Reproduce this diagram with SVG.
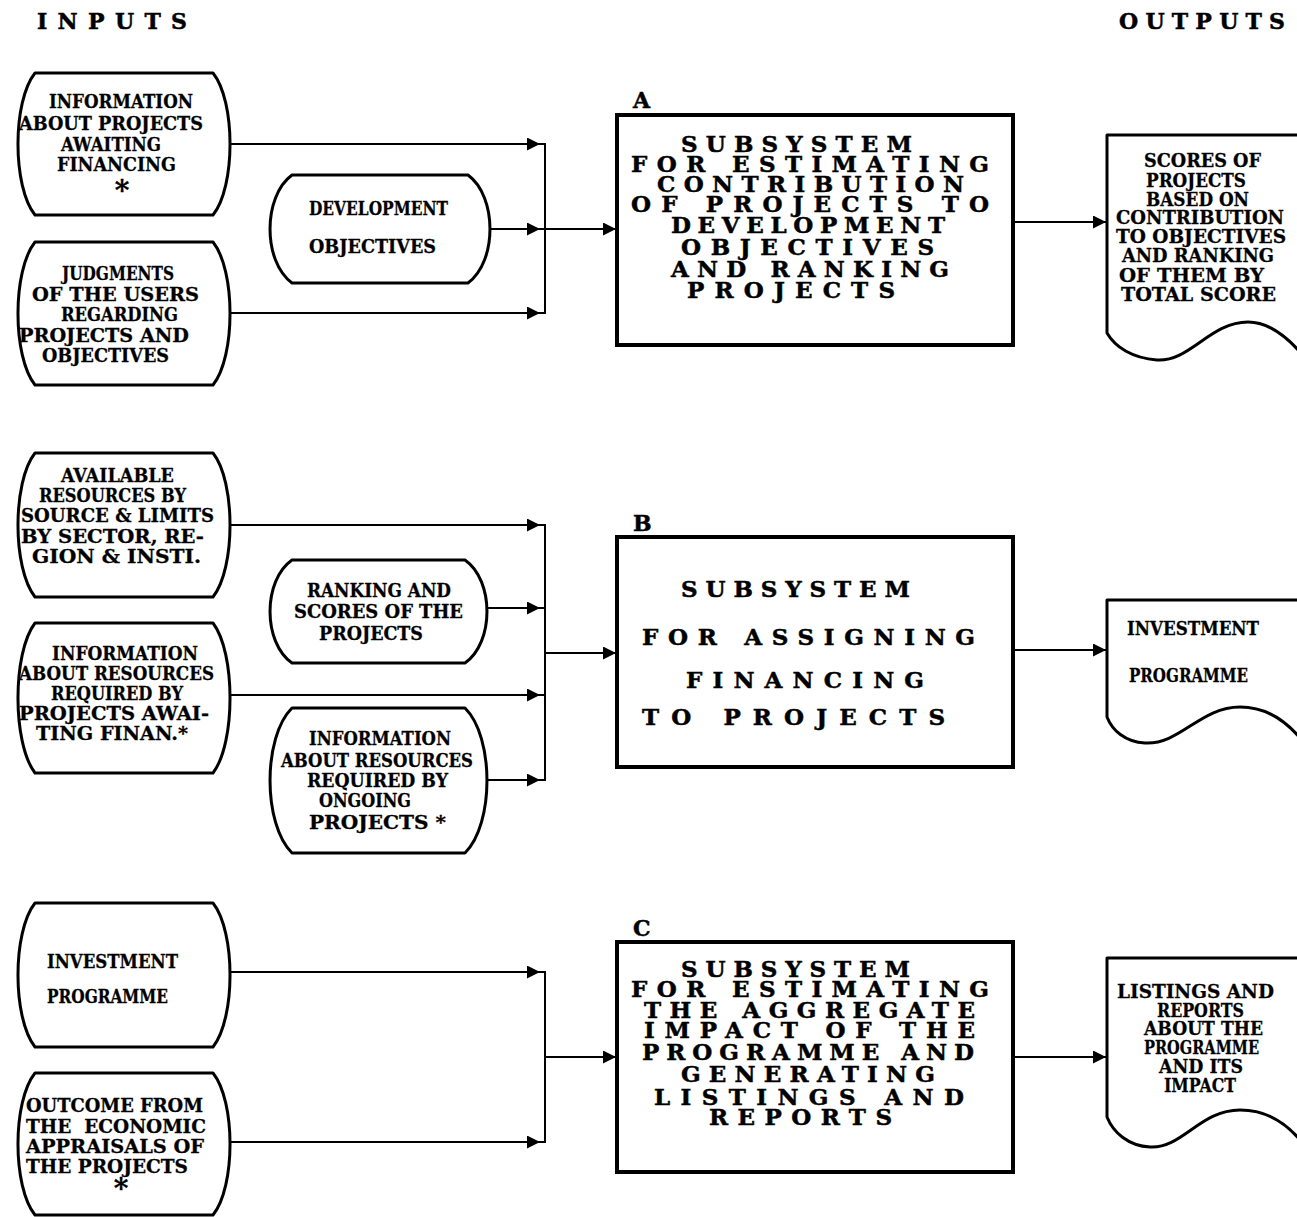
<svg xmlns="http://www.w3.org/2000/svg" width="1297" height="1217" viewBox="0 0 1297 1217">
<style>
.bg{fill:#fff}
.shape{fill:#fff;stroke:#000;stroke-width:3;stroke-linejoin:round}
.box{fill:#fff;stroke:#000;stroke-width:4}
.con{fill:none;stroke:#000;stroke-width:2}
.t{font-family:"DejaVu Serif","Liberation Serif",serif;font-weight:bold;fill:#000;stroke:#000;stroke-width:0.3}
.s{font-size:19px}
.b{font-size:23px;stroke-width:0.5}
.h{font-size:22px;stroke-width:0.5}
.ast{font-size:28px}
</style>
<defs>
<marker id="ah" viewBox="0 0 12 12" refX="12" refY="6" markerWidth="13" markerHeight="13" markerUnits="userSpaceOnUse" orient="auto"><path d="M0,0 L12,6 L0,12 Z" fill="#000"/></marker>
</defs>
<rect class="bg" x="0" y="0" width="1297" height="1217"/>

<g id="headers">
<text class="t h" x="37" y="29" textLength="150" lengthAdjust="spacing">INPUTS</text>
<text class="t h" x="1119" y="29" textLength="166" lengthAdjust="spacing">OUTPUTS</text>
</g>

<g id="connectors">
<path class="con" d="M230,144 H540" marker-end="url(#ah)"/>
<path class="con" d="M490,229 H540" marker-end="url(#ah)"/>
<path class="con" d="M230,313 H540" marker-end="url(#ah)"/>
<path class="con" d="M539,144 H545 V313 H539 M539,229 H545"/>
<path class="con" d="M545,229 H616" marker-end="url(#ah)"/>
<path class="con" d="M1013,222 H1106" marker-end="url(#ah)"/>

<path class="con" d="M230,525 H540" marker-end="url(#ah)"/>
<path class="con" d="M487,608 H540" marker-end="url(#ah)"/>
<path class="con" d="M230,695 H540" marker-end="url(#ah)"/>
<path class="con" d="M487,780 H540" marker-end="url(#ah)"/>
<path class="con" d="M539,525 H545 V780 H539 M539,608 H545 M539,695 H545"/>
<path class="con" d="M545,653 H616" marker-end="url(#ah)"/>
<path class="con" d="M1013,650 H1106" marker-end="url(#ah)"/>

<path class="con" d="M230,972 H540" marker-end="url(#ah)"/>
<path class="con" d="M230,1142 H540" marker-end="url(#ah)"/>
<path class="con" d="M539,972 H545 V1142 H539"/>
<path class="con" d="M545,1057 H616" marker-end="url(#ah)"/>
<path class="con" d="M1013,1057 H1106" marker-end="url(#ah)"/>
</g>

<g id="in-info-projects">
<path class="shape" d="M35,73 H213 C235.7,101.4 235.7,186.6 213,215 H35 C12.3,186.6 12.3,101.4 35,73 Z"/>
<text class="t s" x="49" y="108" textLength="144" lengthAdjust="spacingAndGlyphs">INFORMATION</text>
<text class="t s" x="19" y="130" textLength="184" lengthAdjust="spacingAndGlyphs">ABOUT PROJECTS</text>
<text class="t s" x="61" y="151" textLength="100" lengthAdjust="spacingAndGlyphs">AWAITING</text>
<text class="t s" x="57" y="171" textLength="119" lengthAdjust="spacingAndGlyphs">FINANCING</text>
<text class="t ast" x="122" y="200" text-anchor="middle">*</text>
</g>

<g id="in-judgments">
<path class="shape" d="M35,242 H213 C235.7,270.6 235.7,356.4 213,385 H35 C12.3,356.4 12.3,270.6 35,242 Z"/>
<text class="t s" x="62" y="280" textLength="112" lengthAdjust="spacingAndGlyphs">JUDGMENTS</text>
<text class="t s" x="32" y="301" textLength="167" lengthAdjust="spacingAndGlyphs">OF THE USERS</text>
<text class="t s" x="61" y="321" textLength="117" lengthAdjust="spacingAndGlyphs">REGARDING</text>
<text class="t s" x="19" y="342" textLength="170" lengthAdjust="spacingAndGlyphs">PROJECTS AND</text>
<text class="t s" x="42" y="362" textLength="127" lengthAdjust="spacingAndGlyphs">OBJECTIVES</text>
</g>

<g id="in-dev-objectives">
<path class="shape" d="M292,175 H468 C497.3,196.6 497.3,261.4 468,283 H292 C262.7,261.4 262.7,196.6 292,175 Z"/>
<text class="t s" x="309" y="215" textLength="139" lengthAdjust="spacingAndGlyphs">DEVELOPMENT</text>
<text class="t s" x="309" y="253" textLength="127" lengthAdjust="spacingAndGlyphs">OBJECTIVES</text>
</g>

<g id="box-a">
<text class="t h" x="633" y="108">A</text>
<rect class="box" x="617" y="115" width="396" height="230"/>
<text class="t b" x="681" y="152" textLength="231" lengthAdjust="spacing">SUBSYSTEM</text>
<text class="t b" x="631" y="172" textLength="358" lengthAdjust="spacing">FOR ESTIMATING</text>
<text class="t b" x="657" y="192" textLength="307" lengthAdjust="spacing">CONTRIBUTION</text>
<text class="t b" x="631" y="212" textLength="358" lengthAdjust="spacing">OF PROJECTS TO</text>
<text class="t b" x="671" y="233" textLength="274" lengthAdjust="spacing">DEVELOPMENT</text>
<text class="t b" x="681" y="255" textLength="253" lengthAdjust="spacing">OBJECTIVES</text>
<text class="t b" x="671" y="277" textLength="278" lengthAdjust="spacing">AND RANKING</text>
<text class="t b" x="687" y="298" textLength="208" lengthAdjust="spacing">PROJECTS</text>
</g>

<g id="out-scores">
<path class="shape" d="M1107,135 H1300 V352 C1285,335 1268,322 1248,322 C1210,322 1190,362 1157,360 C1132,358 1115,347 1107,333 Z"/>
<text class="t s" x="1144" y="167" textLength="117" lengthAdjust="spacingAndGlyphs">SCORES OF</text>
<text class="t s" x="1146" y="187" textLength="100" lengthAdjust="spacingAndGlyphs">PROJECTS</text>
<text class="t s" x="1146" y="206" textLength="103" lengthAdjust="spacingAndGlyphs">BASED ON</text>
<text class="t s" x="1116" y="224" textLength="168" lengthAdjust="spacingAndGlyphs">CONTRIBUTION</text>
<text class="t s" x="1116" y="243" textLength="170" lengthAdjust="spacingAndGlyphs">TO OBJECTIVES</text>
<text class="t s" x="1122" y="262" textLength="152" lengthAdjust="spacingAndGlyphs">AND RANKING</text>
<text class="t s" x="1119" y="282" textLength="145" lengthAdjust="spacingAndGlyphs">OF THEM BY</text>
<text class="t s" x="1121" y="301" textLength="155" lengthAdjust="spacingAndGlyphs">TOTAL SCORE</text>
</g>

<g id="in-available">
<path class="shape" d="M35,453 H213 C235.7,481.8 235.7,568.2 213,597 H35 C12.3,568.2 12.3,481.8 35,453 Z"/>
<text class="t s" x="61" y="482" textLength="113" lengthAdjust="spacingAndGlyphs">AVAILABLE</text>
<text class="t s" x="39" y="502" textLength="147" lengthAdjust="spacingAndGlyphs">RESOURCES BY</text>
<text class="t s" x="21" y="522" textLength="193" lengthAdjust="spacingAndGlyphs">SOURCE &amp; LIMITS</text>
<text class="t s" x="21" y="543" textLength="183" lengthAdjust="spacingAndGlyphs">BY SECTOR, RE-</text>
<text class="t s" x="32" y="563" textLength="169" lengthAdjust="spacingAndGlyphs">GION &amp; INSTI.</text>
</g>

<g id="in-resources-awaiting">
<path class="shape" d="M35,623 H213 C235.7,653 235.7,743 213,773 H35 C12.3,743 12.3,653 35,623 Z"/>
<text class="t s" x="52" y="660" textLength="146" lengthAdjust="spacingAndGlyphs">INFORMATION</text>
<text class="t s" x="19" y="680" textLength="195" lengthAdjust="spacingAndGlyphs">ABOUT RESOURCES</text>
<text class="t s" x="51" y="700" textLength="132" lengthAdjust="spacingAndGlyphs">REQUIRED BY</text>
<text class="t s" x="19" y="720" textLength="190" lengthAdjust="spacingAndGlyphs">PROJECTS AWAI-</text>
<text class="t s" x="36" y="740" textLength="152" lengthAdjust="spacingAndGlyphs">TING FINAN.*</text>
</g>

<g id="in-ranking">
<path class="shape" d="M292,560 H465 C494.3,580.6 494.3,642.4 465,663 H292 C262.7,642.4 262.7,580.6 292,560 Z"/>
<text class="t s" x="307" y="597" textLength="144" lengthAdjust="spacingAndGlyphs">RANKING AND</text>
<text class="t s" x="294" y="618" textLength="169" lengthAdjust="spacingAndGlyphs">SCORES OF THE</text>
<text class="t s" x="319" y="640" textLength="104" lengthAdjust="spacingAndGlyphs">PROJECTS</text>
</g>

<g id="in-resources-ongoing">
<path class="shape" d="M292,708 H465 C494.3,737 494.3,824 465,853 H292 C262.7,824 262.7,737 292,708 Z"/>
<text class="t s" x="309" y="745" textLength="142" lengthAdjust="spacingAndGlyphs">INFORMATION</text>
<text class="t s" x="281" y="767" textLength="192" lengthAdjust="spacingAndGlyphs">ABOUT RESOURCES</text>
<text class="t s" x="307" y="787" textLength="141" lengthAdjust="spacingAndGlyphs">REQUIRED BY</text>
<text class="t s" x="319" y="807" textLength="92" lengthAdjust="spacingAndGlyphs">ONGOING</text>
<text class="t s" x="309" y="829" textLength="137" lengthAdjust="spacingAndGlyphs">PROJECTS *</text>
</g>

<g id="box-b">
<text class="t h" x="633" y="531">B</text>
<rect class="box" x="617" y="537" width="396" height="230"/>
<text class="t b" x="681" y="597" textLength="229" lengthAdjust="spacing">SUBSYSTEM</text>
<text class="t b" x="642" y="645" textLength="333" lengthAdjust="spacing">FOR ASSIGNING</text>
<text class="t b" x="686" y="688" textLength="238" lengthAdjust="spacing">FINANCING</text>
<text class="t b" x="642" y="725" textLength="303" lengthAdjust="spacing">TO PROJECTS</text>
</g>

<g id="out-investment">
<path class="shape" d="M1107,600 H1300 V738 C1285,720 1265,707 1240,707 C1200,707 1180,745 1145,743 C1125,742 1112,730 1107,717 Z"/>
<text class="t s" x="1127" y="635" textLength="132" lengthAdjust="spacingAndGlyphs">INVESTMENT</text>
<text class="t s" x="1129" y="682" textLength="119" lengthAdjust="spacingAndGlyphs">PROGRAMME</text>
</g>

<g id="in-investment">
<path class="shape" d="M35,903 H213 C235.7,931.8 235.7,1018.2 213,1047 H35 C12.3,1018.2 12.3,931.8 35,903 Z"/>
<text class="t s" x="47" y="968" textLength="131" lengthAdjust="spacingAndGlyphs">INVESTMENT</text>
<text class="t s" x="47" y="1003" textLength="121" lengthAdjust="spacingAndGlyphs">PROGRAMME</text>
</g>

<g id="in-outcome">
<path class="shape" d="M35,1073 H213 C235.7,1101.4 235.7,1186.6 213,1215 H35 C12.3,1186.6 12.3,1101.4 35,1073 Z"/>
<text class="t s" x="26" y="1112" textLength="177" lengthAdjust="spacingAndGlyphs">OUTCOME FROM</text>
<text class="t s" x="26" y="1133" textLength="180" lengthAdjust="spacingAndGlyphs" xml:space="preserve">THE  ECONOMIC</text>
<text class="t s" x="26" y="1153" textLength="178" lengthAdjust="spacingAndGlyphs">APPRAISALS OF</text>
<text class="t s" x="26" y="1173" textLength="162" lengthAdjust="spacingAndGlyphs">THE PROJECTS</text>
<text class="t ast" x="121" y="1198" text-anchor="middle">*</text>
</g>

<g id="box-c">
<text class="t h" x="633" y="936">C</text>
<rect class="box" x="617" y="942" width="396" height="230"/>
<text class="t b" x="681" y="977" textLength="229" lengthAdjust="spacing">SUBSYSTEM</text>
<text class="t b" x="631" y="997" textLength="358" lengthAdjust="spacing">FOR ESTIMATING</text>
<text class="t b" x="644" y="1018" textLength="331" lengthAdjust="spacing">THE AGGREGATE</text>
<text class="t b" x="644" y="1038" textLength="331" lengthAdjust="spacing">IMPACT OF THE</text>
<text class="t b" x="642" y="1060" textLength="332" lengthAdjust="spacing">PROGRAMME AND</text>
<text class="t b" x="681" y="1082" textLength="254" lengthAdjust="spacing">GENERATING</text>
<text class="t b" x="654" y="1105" textLength="310" lengthAdjust="spacing">LISTINGS AND</text>
<text class="t b" x="709" y="1125" textLength="183" lengthAdjust="spacing">REPORTS</text>
</g>

<g id="out-listings">
<path class="shape" d="M1107,958 H1300 V1140 C1285,1122 1265,1110 1240,1110 C1200,1110 1182,1149 1150,1147 C1128,1146 1113,1132 1107,1117 Z"/>
<text class="t s" x="1117" y="998" textLength="157" lengthAdjust="spacingAndGlyphs">LISTINGS AND</text>
<text class="t s" x="1157" y="1017" textLength="87" lengthAdjust="spacingAndGlyphs">REPORTS</text>
<text class="t s" x="1144" y="1035" textLength="119" lengthAdjust="spacingAndGlyphs">ABOUT THE</text>
<text class="t s" x="1144" y="1054" textLength="115" lengthAdjust="spacingAndGlyphs">PROGRAMME</text>
<text class="t s" x="1159" y="1073" textLength="84" lengthAdjust="spacingAndGlyphs">AND ITS</text>
<text class="t s" x="1164" y="1092" textLength="72" lengthAdjust="spacingAndGlyphs">IMPACT</text>
</g>
</svg>
